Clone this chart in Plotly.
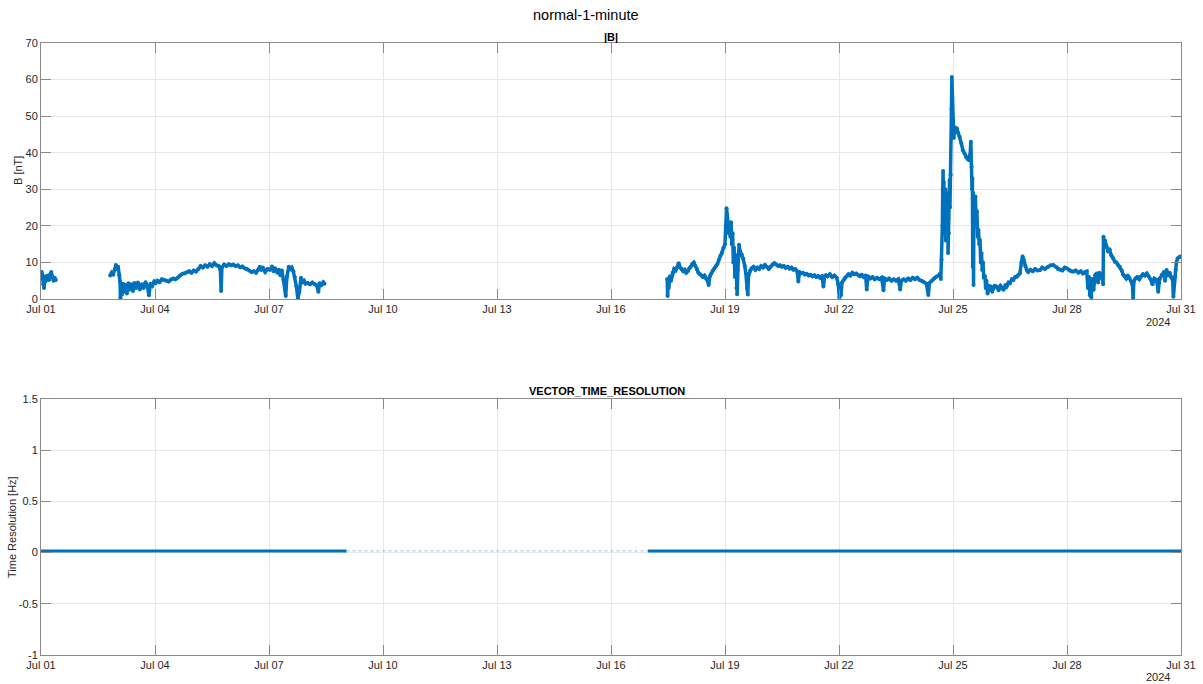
import numpy as np
import pandas as pd
import plotly.graph_objects as go
from plotly.subplots import make_subplots

# ---------------- data ----------------
# |B| magnetic field magnitude; time given as fractional day of July 2024, None = data gap
b_day = [
    1.00, 1.02, 1.04, 1.06, 1.08, 1.10, 1.12, 1.15, 1.18, 1.21, 1.24, 1.27, 1.30, 1.33, 1.36, 1.39,
    None,
    2.82, 2.86, 2.90, 2.94, 2.97, 3.00, 3.03, 3.06, 3.08, 3.09, 3.11, 3.13, 3.16, 3.19, 3.22, 3.26,
    3.30, 3.34, 3.38, 3.42, 3.46, 3.50, 3.55, 3.60, 3.65, 3.70, 3.75, 3.80, 3.84, 3.88, 3.93, 3.98,
    4.02, 4.06, 4.12, 4.18, 4.24, 4.30, 4.36, 4.42, 4.48, 4.54, 4.60, 4.66, 4.72, 4.78, 4.84, 4.90,
    4.96, 5.02, 5.08, 5.14, 5.20, 5.26, 5.32, 5.38, 5.44, 5.50, 5.56, 5.62, 5.68, 5.72, 5.74, 5.76,
    5.82, 5.88, 5.94, 6.00, 6.06, 6.12, 6.18, 6.24, 6.30, 6.36, 6.42, 6.48, 6.54, 6.60, 6.66, 6.72,
    6.76, 6.80, 6.84, 6.90, 6.96, 7.02, 7.08, 7.12, 7.16, 7.22, 7.26, 7.30, 7.34, 7.38, 7.42, 7.44,
    7.47, 7.52, 7.56, 7.60, 7.64, 7.68, 7.72, 7.76, 7.80, 7.84, 7.88, 7.92, 7.96, 8.02, 8.08, 8.14,
    8.20, 8.26, 8.30, 8.33, 8.38, 8.43, 8.46,
    None,
    17.48, 17.49, 17.50, 17.52, 17.55, 17.58, 17.62, 17.66, 17.70, 17.74, 17.78, 17.82, 17.86, 17.90,
    17.94, 17.98, 18.02, 18.06, 18.10, 18.14, 18.18, 18.22, 18.26, 18.30, 18.34, 18.38, 18.42, 18.46,
    18.50, 18.54, 18.57, 18.60, 18.64, 18.68, 18.72, 18.76, 18.80, 18.84, 18.88, 18.92, 18.96, 19.00,
    19.02, 19.04, 19.06, 19.08, 19.10, 19.12, 19.14, 19.16, 19.18, 19.20, 19.22, 19.24, 19.26, 19.28,
    19.30, 19.32, 19.34, 19.37, 19.40, 19.44, 19.48, 19.52, 19.55, 19.58, 19.60, 19.62, 19.66, 19.70,
    19.75, 19.80, 19.85, 19.90, 19.95, 20.00, 20.05, 20.10, 20.15, 20.20, 20.25, 20.30, 20.35, 20.40,
    20.45, 20.50, 20.55, 20.60, 20.65, 20.70, 20.75, 20.80, 20.85, 20.90, 20.93, 20.96, 21.00, 21.05,
    21.10, 21.15, 21.20, 21.25, 21.30, 21.35, 21.40, 21.45, 21.50, 21.55, 21.59, 21.62, 21.66, 21.70,
    21.76, 21.82, 21.88, 21.94, 21.98, 22.01, 22.03, 22.05, 22.08, 22.12, 22.16, 22.20, 22.25, 22.30,
    22.35, 22.40, 22.45, 22.50, 22.55, 22.60, 22.65, 22.70, 22.73, 22.76, 22.82, 22.88, 22.94, 23.00,
    23.06, 23.12, 23.17, 23.20, 23.26, 23.32, 23.38, 23.44, 23.50, 23.56, 23.61, 23.64, 23.70, 23.76,
    23.82, 23.88, 23.94, 24.00, 24.06, 24.12, 24.18, 24.24, 24.30, 24.35, 24.38, 24.44, 24.50, 24.56,
    24.62, 24.66, 24.68, 24.70, 24.72, 24.73, 24.74, 24.75, 24.76, 24.77, 24.78, 24.79, 24.80, 24.81,
    24.82, 24.83, 24.84, 24.85, 24.86, 24.87, 24.88, 24.89, 24.90, 24.91, 24.92, 24.94, 24.96, 24.97,
    24.98, 24.99, 25.00, 25.02, 25.04, 25.07, 25.10, 25.14, 25.18, 25.22, 25.26, 25.30, 25.34, 25.38,
    25.42, 25.45, 25.47, 25.49, 25.50, 25.51, 25.52, 25.53, 25.54, 25.55, 25.57, 25.59, 25.61, 25.63,
    25.65, 25.67, 25.69, 25.71, 25.73, 25.75, 25.77, 25.79, 25.81, 25.84, 25.86, 25.88, 25.91, 25.94,
    25.97, 26.00, 26.03, 26.06, 26.10, 26.15, 26.20, 26.25, 26.30, 26.33, 26.38, 26.41, 26.46, 26.50,
    26.55, 26.59, 26.64, 26.68, 26.72, 26.76, 26.80, 26.83, 26.86, 26.90, 26.94, 26.98, 27.04, 27.10,
    27.16, 27.22, 27.29, 27.35, 27.42, 27.50, 27.57, 27.64, 27.70, 27.76, 27.82, 27.88, 27.94, 27.99,
    28.05, 28.11, 28.17, 28.23, 28.30, 28.36, 28.42, 28.48, 28.52, 28.55, 28.58, 28.60, 28.62, 28.64,
    28.66, 28.70, 28.74, 28.78, 28.82, 28.85, 28.89, 28.92, 28.95, 28.96, 28.98, 29.00, 29.04, 29.08,
    29.12, 29.16, 29.20, 29.22, 29.26, 29.30, 29.35, 29.39, 29.44, 29.48, 29.52, 29.56, 29.60, 29.64,
    29.68, 29.72, 29.74, 29.76, 29.80, 29.85, 29.90, 29.95, 30.00, 30.05, 30.10, 30.15, 30.20, 30.25,
    30.30, 30.36, 30.40, 30.44, 30.50, 30.55, 30.58, 30.62, 30.66, 30.70, 30.74, 30.78, 30.80, 30.82,
    30.84, 30.86, 30.88, 30.91, 30.95, 30.99,
]
b_val = [
    6.5, 7.4, 5.8, 4.0, 3.0, 6.2, 4.8, 5.6, 6.4, 5.2, 6.8, 7.4, 6.0, 5.0, 5.8, 5.2,
    None,
    6.4, 7.2, 6.6, 8.0, 9.3, 8.2, 8.8, 6.5, 4.8, 0.3, 3.5, 1.2, 4.2, 2.0, 3.8, 1.5,
    4.3, 2.6, 4.0, 2.2, 4.4, 3.0, 4.5, 2.6, 4.0, 3.0, 4.6, 3.5, 1.0, 4.2, 3.6, 4.8,
    4.4, 5.0, 4.6, 5.4, 5.2, 5.0, 4.8, 5.3, 5.6, 5.4, 5.8, 6.4, 6.9, 7.0, 7.3, 7.6,
    7.2, 7.8, 7.5, 8.2, 9.0, 8.6, 9.2, 8.8, 9.5, 9.0, 9.8, 9.2, 9.0, 8.0, 2.2, 8.6,
    9.4, 9.0, 9.5, 9.2, 9.4, 9.0, 9.2, 8.7, 8.9, 8.4, 8.2, 7.8, 7.4, 7.6, 7.2, 8.0,
    8.8, 7.9, 8.6, 7.4, 8.2, 8.0, 8.9, 7.6, 8.4, 7.2, 8.0, 6.5, 7.8, 5.2, 3.0, 0.8,
    6.0, 8.8, 8.2, 8.6, 7.6, 6.0, 3.5, 0.2, 2.0, 5.8, 4.6, 5.0, 4.2, 4.4, 4.0, 4.5,
    4.1, 3.6, 2.0, 4.3, 3.8, 4.6, 4.2,
    None,
    5.5, 0.8, 4.8, 3.0, 6.2, 5.0, 7.2, 8.2, 7.8, 8.6, 9.8, 8.6, 8.2, 7.6,
    8.0, 7.2, 7.6, 8.4, 8.8, 9.6, 10.0, 9.0, 8.2, 7.2, 6.8, 6.4, 6.0, 6.4,
    5.6, 5.0, 3.8, 6.2, 7.0, 7.8, 8.4, 9.0, 9.6, 10.8, 11.8, 12.6, 14.0, 15.0,
    20.0, 24.8, 23.0, 21.0, 18.0, 20.5, 17.0, 21.0, 15.0, 18.0, 10.0, 14.0, 6.0, 12.0,
    3.0, 1.3, 8.0, 14.8, 13.0, 12.2, 11.0, 9.0, 7.0, 3.0, 1.2, 6.5, 7.8, 8.4,
    8.8, 8.0, 8.6, 8.2, 9.0, 8.6, 9.3, 8.8, 8.2, 8.8, 9.4, 9.8, 9.4, 9.0,
    9.2, 8.8, 9.0, 8.5, 8.8, 8.3, 8.6, 8.0, 8.2, 7.6, 4.8, 7.4, 7.0, 7.2,
    6.7, 6.9, 6.4, 6.6, 6.2, 6.5, 6.0, 6.3, 5.8, 6.2, 3.4, 6.0, 6.5, 6.2,
    6.8, 6.0, 6.4, 5.8, 4.0, 0.4, 2.5, 1.0, 4.5, 5.2, 5.8, 6.2, 6.8, 6.4,
    7.2, 6.8, 7.0, 6.6, 6.2, 6.6, 6.0, 6.4, 2.6, 6.2, 5.6, 6.0, 5.4, 5.8,
    5.4, 5.8, 2.4, 5.6, 5.2, 5.6, 5.0, 5.4, 5.0, 5.4, 2.6, 5.0, 5.4, 5.0,
    5.6, 5.2, 5.8, 5.4, 5.8, 5.2, 5.0, 4.6, 4.2, 1.1, 4.4, 5.0, 5.6, 6.1,
    6.4, 7.0, 5.5, 10.7, 20.0, 30.0, 35.0, 24.0, 32.0, 18.0, 28.0, 22.0, 30.0, 16.0,
    26.0, 20.0, 29.0, 17.0, 24.0, 12.6, 22.0, 18.0, 27.0, 32.5, 25.0, 34.0, 52.0, 60.7,
    55.0, 49.0, 47.0, 44.0, 47.0, 45.5, 46.7, 45.4, 44.3, 42.5, 40.7, 39.8, 38.9, 38.3,
    38.0, 39.5, 43.0, 36.1, 30.0, 33.0, 8.8, 29.0, 3.8, 26.0, 22.5, 28.0, 20.0, 24.0,
    17.0, 18.9, 15.0, 16.1, 10.0, 12.5, 7.9, 10.0, 6.0, 6.1, 3.0, 5.0, 1.5, 3.6,
    2.5, 3.4, 2.0, 2.9, 3.6, 3.4, 2.4, 3.6, 3.0, 2.5, 3.8, 3.4, 4.5, 4.3,
    5.4, 5.2, 6.1, 6.1, 6.6, 7.0, 10.0, 11.6, 10.7, 9.0, 7.9, 7.4, 8.0, 7.6,
    8.2, 7.8, 7.9, 8.6, 8.2, 8.8, 9.2, 9.3, 8.8, 8.2, 8.0, 7.8, 8.6, 8.4,
    8.0, 7.6, 7.5, 7.8, 7.2, 7.6, 7.0, 7.4, 7.5, 3.0, 6.0, 1.0, 4.5, 0.5,
    5.5, 2.5, 6.5, 7.0, 4.5, 7.2, 5.8, 6.8, 4.0, 17.0, 15.5, 16.0, 14.3, 13.0,
    13.6, 12.0, 11.4, 11.0, 10.2, 10.0, 9.2, 8.8, 7.8, 6.6, 6.2, 5.6, 6.4, 5.8,
    5.0, 4.0, 0.2, 4.8, 5.6, 6.0, 5.4, 6.2, 6.8, 6.4, 7.0, 6.2, 5.4, 4.0,
    5.6, 5.2, 2.0, 5.6, 6.6, 7.4, 5.0, 7.9, 6.4, 7.2, 6.0, 5.2, 0.6, 4.2,
    6.0, 8.0, 10.0, 11.1, 11.4, 11.6,
]

# vector time resolution [Hz] (1-minute cadence); solid where data present, sparse fill in gap
tr_day_a = [1.00, 9.04]
tr_val_a = [0.0167, 0.0167]
tr_day_gap = [9.04, 16.97]
tr_val_gap = [0.0167, 0.0167]
tr_day_b = [16.97, 31.00]
tr_val_b = [0.0167, 0.0167]

x_ticks_every_days = 3
y1_ticks = [0, 10, 20, 30, 40, 50, 60, 70]
y2_ticks = [-1, -0.5, 0, 0.5, 1, 1.5]
y2_ticktext = ["-1", "-0.5", "0", "0.5", "1", "1.5"]

T0 = pd.Timestamp("2024-07-01")


def to_time(days):
    return [None if d is None else T0 + pd.Timedelta(days=d - 1) for d in days]


BLUE = "#0072BD"
FONT = "Liberation Sans, Arial, Helvetica, sans-serif"
TXT = "#262626"
AX = "#8a8a8a"
GRID = "#e6e6e6"

W, H = 1203, 684
ML, MR, MT, MB = 41, 22, 43, 29
plot_h = H - MT - MB
top_lo = (655 - 299) / plot_h
bot_hi = (655 - 399) / plot_h

fig = make_subplots(rows=2, cols=1)

fig.add_trace(go.Scatter(
    x=to_time(b_day), y=b_val, mode="lines+markers",
    line=dict(color=BLUE, width=3.5), marker=dict(color=BLUE, size=4),
    connectgaps=False, showlegend=False, hoverinfo="skip"), row=1, col=1)

fig.add_trace(go.Scatter(
    x=to_time(tr_day_gap), y=tr_val_gap, mode="lines",
    line=dict(color="rgba(0,114,189,0.35)", width=1.2, dash="dot"),
    showlegend=False, hoverinfo="skip"), row=2, col=1)
for dd, vv in ((tr_day_a, tr_val_a), (tr_day_b, tr_val_b)):
    fig.add_trace(go.Scatter(
        x=to_time(dd), y=vv, mode="lines",
        line=dict(color=BLUE, width=3),
        showlegend=False, hoverinfo="skip"), row=2, col=1)

xcommon = dict(
    type="date", range=[T0, T0 + pd.Timedelta(days=30)],
    tick0=T0, dtick=x_ticks_every_days * 86400000, tickformat="%b %d",
    ticks="inside", ticklen=10, tickcolor=AX, tickwidth=1,
    showline=True, linecolor=AX, linewidth=1, mirror="ticks",
    showgrid=True, gridcolor=GRID, gridwidth=1, zeroline=False, automargin=False,
    tickfont=dict(family=FONT, size=11, color=TXT),
)
fig.update_xaxes(**xcommon)
fig.update_xaxes(domain=[0, 1], row=1, col=1)
fig.update_xaxes(domain=[0, 1], row=2, col=1)

ycommon = dict(
    ticks="inside", ticklen=10, tickcolor=AX, tickwidth=1,
    showline=True, linecolor=AX, linewidth=1, mirror="ticks",
    showgrid=True, gridcolor=GRID, gridwidth=1, zeroline=False, automargin=False,
    tickfont=dict(family=FONT, size=11, color=TXT),
)
fig.update_yaxes(**ycommon)
fig.update_yaxes(range=[0, 70], tickvals=y1_ticks, domain=[top_lo, 1], row=1, col=1)
fig.update_yaxes(range=[-1, 1.5], tickvals=y2_ticks, ticktext=y2_ticktext,
                 domain=[0, bot_hi], row=2, col=1)


def px_x(px):
    return (px - ML) / (W - ML - MR)


def px_y(py):
    return (H - MB - py) / plot_h


ann = [
    dict(text="normal-1-minute", x=px_x(586), y=px_y(15), size=14.5),
    dict(text="<b>|B|</b>", x=px_x(611), y=px_y(37), size=11),
    dict(text="<b>VECTOR_TIME_RESOLUTION</b>", x=px_x(607), y=px_y(391), size=11),
]
for a in ann:
    fig.add_annotation(text=a["text"], x=a["x"], y=a["y"], xref="paper", yref="paper",
                       xanchor="center", yanchor="middle", showarrow=False,
                       font=dict(family=FONT, size=a["size"], color="#000000"))

for yy in (322, 677):
    fig.add_annotation(text="2024", x=px_x(1172), y=px_y(yy), xref="paper", yref="paper",
                       xanchor="right", yanchor="middle", showarrow=False,
                       font=dict(family=FONT, size=11, color=TXT))

fig.add_annotation(text="B [nT]", x=px_x(18), y=px_y(171), xref="paper", yref="paper",
                   xanchor="center", yanchor="middle", textangle=-90, showarrow=False,
                   font=dict(family=FONT, size=11, color=TXT))
fig.add_annotation(text="Time Resolution [Hz]", x=px_x(12), y=px_y(527), xref="paper",
                   yref="paper", xanchor="center", yanchor="middle", textangle=-90,
                   showarrow=False, font=dict(family=FONT, size=11, color=TXT))

fig.update_layout(
    width=W, height=H,
    margin=dict(l=ML, r=MR, t=MT, b=MB, pad=0, autoexpand=False),
    paper_bgcolor="white", plot_bgcolor="white",
    font=dict(family=FONT, size=11, color=TXT),
    hovermode=False,
)

fig.write_html("out.html", config={"displayModeBar": False},
               post_script="document.body.style.margin='0';document.body.style.overflow='hidden';")
